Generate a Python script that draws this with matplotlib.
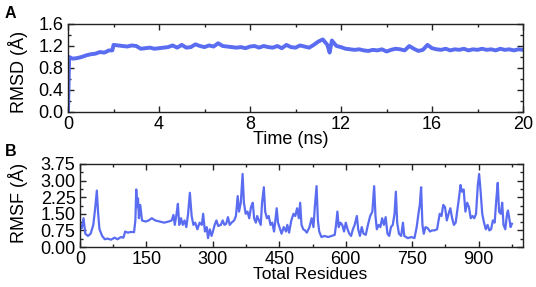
import matplotlib
matplotlib.use("Agg")
import matplotlib.pyplot as plt
from matplotlib.ticker import MultipleLocator

plt.rcParams['font.family'] = ['Liberation Sans', 'DejaVu Sans']

# ---- Panel A: RMSD vs time ----
time_ns = [0, 0.05, 0.2, 0.4, 0.6, 0.8, 1.0, 1.2, 1.4, 1.6, 1.8, 1.95, 2.0, 2.2, 2.4, 2.6, 2.8, 3.0,
           3.2, 3.4, 3.6, 3.8, 4.0, 4.2, 4.4, 4.6, 4.8, 5.0, 5.2, 5.4, 5.6, 5.8, 6.0, 6.2, 6.4,
           6.6, 6.8, 7.0, 7.2, 7.4, 7.6, 7.8, 8.0, 8.2, 8.4, 8.6, 8.8, 9.0, 9.2, 9.4, 9.6, 9.8,
           10.0, 10.2, 10.4, 10.6, 10.8, 11.0, 11.2, 11.4, 11.5, 11.6, 11.8, 12.0, 12.2, 12.4,
           12.6, 12.8, 13.0, 13.2, 13.4, 13.6, 13.8, 14.0, 14.2, 14.4, 14.6, 14.8, 15.0, 15.2,
           15.4, 15.6, 15.8, 16.0, 16.2, 16.4, 16.6, 16.8, 17.0, 17.2, 17.4, 17.6, 17.8, 18.0,
           18.2, 18.4, 18.6, 18.8, 19.0, 19.2, 19.4, 19.6, 19.8, 20.0]
rmsd = [0.0, 1.0, 0.97, 0.98, 1.0, 1.03, 1.05, 1.06, 1.09, 1.08, 1.12, 1.12, 1.22, 1.21, 1.20, 1.19, 1.21, 1.20,
        1.15, 1.16, 1.17, 1.15, 1.16, 1.17, 1.18, 1.21, 1.17, 1.22, 1.17, 1.18, 1.23, 1.20, 1.18, 1.21, 1.19,
        1.25, 1.20, 1.19, 1.18, 1.17, 1.18, 1.16, 1.19, 1.20, 1.17, 1.20, 1.18, 1.17, 1.20, 1.16, 1.22, 1.18,
        1.17, 1.21, 1.19, 1.17, 1.22, 1.28, 1.32, 1.22, 1.08, 1.30, 1.20, 1.18, 1.15, 1.14,
        1.13, 1.14, 1.12, 1.11, 1.13, 1.12, 1.14, 1.10, 1.13, 1.15, 1.14, 1.12, 1.20, 1.15,
        1.11, 1.13, 1.22, 1.16, 1.14, 1.13, 1.15, 1.12, 1.14, 1.13, 1.15, 1.12, 1.14, 1.13,
        1.15, 1.13, 1.14, 1.12, 1.15, 1.13, 1.14, 1.12, 1.14, 1.13]

# ---- Panel B: RMSF per residue ----
residue = [0, 4, 8, 12, 18, 24, 30, 34, 38, 41, 44, 50, 56, 62, 70, 78, 85, 92, 98, 102, 108, 115, 122,
           125, 127, 129, 131, 133, 136, 140, 148, 155, 162, 170, 180, 190, 200, 207, 211, 214, 218, 221,
           224, 228, 232, 236, 240, 244, 248, 252, 256, 260, 265, 270, 275, 278, 282, 286, 289, 293, 297,
           300, 304, 308, 312, 318, 322, 326, 330, 334, 338, 342, 348, 352, 356, 359, 363, 367, 370, 374,
           378, 382, 386, 390, 393, 397, 400, 404, 408, 411, 415, 418, 422, 426, 430, 434, 438, 441, 444,
           447, 451, 455, 460, 465, 468, 472, 477, 482, 486, 490, 494, 497, 500, 504, 508, 512, 518, 523,
           527, 530, 534, 537, 540, 545, 552, 560, 568, 575, 578, 581, 584, 588, 592, 596, 600, 604, 608,
           612, 616, 620, 625, 628, 632, 636, 640, 645, 650, 655, 660, 664, 667, 670, 674, 678, 682, 686,
           690, 694, 698, 702, 706, 710, 713, 716, 720, 725, 729, 732, 740, 748, 755, 760, 764, 767, 770,
           773, 776, 780, 785, 790, 795, 800, 806, 812, 816, 820, 824, 828, 832, 836, 840, 844, 848, 852,
           856, 859, 862, 866, 870, 874, 878, 882, 886, 890, 894, 898, 901, 904, 908, 912, 916, 920, 924,
           928, 932, 936, 940, 943, 946, 950, 953, 956, 960, 964, 966, 969, 972, 975]
rmsf = [1.0, 0.85, 1.3, 0.6, 0.5, 0.6, 1.0, 1.7, 2.55, 1.5, 0.8, 0.5, 0.35, 0.38, 0.33, 0.42, 0.35, 0.45, 0.42, 0.7, 0.65, 0.68, 0.67,
        1.2, 2.6, 1.8, 2.2, 1.3, 1.9, 1.2, 1.15, 1.2, 1.3, 1.2, 1.15, 1.1, 1.15, 1.2, 1.45, 1.0, 1.5, 1.95,
        1.0, 1.3, 1.0, 1.2, 0.9, 1.5, 2.45, 1.4, 1.0, 1.1, 0.8, 1.1, 1.0, 1.5, 0.7, 0.9, 0.4, 0.8, 0.5,
        0.7, 1.0, 1.2, 0.95, 1.0, 1.2, 1.0, 1.05, 1.35, 1.0, 1.1, 1.2, 1.4, 2.3, 1.6, 2.0, 3.3, 2.0, 1.5,
        1.6, 1.3, 1.8, 2.0, 1.3, 1.1, 1.4, 1.2, 1.0, 2.0, 2.7, 1.6, 1.3, 1.4, 1.0, 1.1, 0.7, 1.2, 1.75,
        1.1, 0.85, 0.6, 0.9, 0.7, 1.0, 0.65, 1.2, 1.5, 1.4, 1.75, 1.3, 2.0, 1.0, 0.8, 0.75, 0.65, 0.9, 1.3,
        0.9, 1.8, 2.75, 1.2, 0.7, 0.45, 0.5, 0.45, 0.5, 0.55, 1.0, 1.6, 0.9, 1.1, 1.0, 0.7, 1.1, 0.8, 0.6,
        0.5, 0.8, 1.0, 1.4, 0.8, 0.5, 0.9, 0.6, 0.55, 1.0, 1.4, 1.6, 2.75, 1.4, 0.8, 1.0, 0.9, 1.3, 1.0,
        1.35, 0.6, 0.5, 0.9, 1.0, 1.5, 2.5, 1.1, 0.6, 0.5, 1.1, 0.5, 0.4, 0.45, 0.4, 0.9, 1.5, 1.9, 2.7,
        1.0, 0.6, 0.9, 0.85, 0.7, 0.75, 0.75, 0.8, 1.5, 1.4, 1.9, 1.8, 1.2, 1.5, 1.75, 1.3, 1.0, 1.1, 1.7,
        2.3, 2.8, 2.5, 2.6, 1.6, 2.0, 1.8, 1.3, 1.4, 1.3, 1.5, 2.8, 3.3, 2.6, 1.5, 1.1, 0.8, 1.0, 0.75,
        0.8, 1.2, 1.1, 2.2, 2.9, 1.6, 1.5, 2.0, 1.0, 0.8, 1.5, 1.65, 1.3, 0.9, 1.05]

line_color = '#5a6cf0'
W, H = 536, 287
fig = plt.figure(figsize=(W / 100, H / 100), dpi=100)

axA = fig.add_axes([68 / W, 1 - 112 / H, (523 - 68) / W, (112 - 24) / H])
axB = fig.add_axes([80 / W, 1 - 247 / H, (523 - 80) / W, (247 - 164) / H])

axA.plot(time_ns, rmsd, color=line_color, lw=2.8, solid_joinstyle='round')
axA.set_xlim(0, 20)
axA.set_ylim(0, 1.6)
axA.xaxis.set_major_locator(MultipleLocator(4))
axA.xaxis.set_minor_locator(MultipleLocator(2))
axA.yaxis.set_major_locator(MultipleLocator(0.4))
axA.yaxis.set_minor_locator(MultipleLocator(0.2))
axA.yaxis.set_major_formatter(plt.FormatStrFormatter('%.1f'))
axA.set_xlabel('Time (ns)', fontsize=13)
axA.set_ylabel('RMSD (Å)', fontsize=13)

axB.plot(residue, rmsf, color=line_color, lw=1.6)
axB.set_xlim(0, 1000)
axB.set_ylim(0, 3.75)
axB.xaxis.set_major_locator(MultipleLocator(150))
axB.xaxis.set_minor_locator(MultipleLocator(75))
axB.yaxis.set_major_locator(MultipleLocator(0.75))
axB.yaxis.set_minor_locator(MultipleLocator(0.375))
axB.yaxis.set_major_formatter(plt.FormatStrFormatter('%.2f'))
axB.set_xlabel('Total Residues', fontsize=12.5)
axB.set_ylabel('RMSF (Å)', fontsize=13)

for ax in (axA, axB):
    ax.tick_params(which='both', direction='in', top=True, right=True, labelsize=13,
                   width=1, color='#222222')
    ax.tick_params(axis='x', pad=2.6)
    ax.tick_params(axis='y', pad=3.2)
    ax.tick_params(which='major', length=4.5)
    ax.tick_params(which='minor', length=2.5)
    for s in ax.spines.values():
        s.set_linewidth(1)
        s.set_color('#222222')

# label placement in figure pixels (from top-left)
def fig_xy(px, py):
    return px / W, 1 - py / H

axA.xaxis.set_label_coords(*fig_xy(291, 131), transform=fig.transFigure)
axA.yaxis.set_label_coords(*fig_xy(28, 72), transform=fig.transFigure)
axB.xaxis.set_label_coords(*fig_xy(310, 267), transform=fig.transFigure)
axB.yaxis.set_label_coords(*fig_xy(28, 203), transform=fig.transFigure)

fig.text(*fig_xy(5, 13), 'A', fontsize=11.5, fontweight='bold', ha='left', va='center')
fig.text(*fig_xy(5, 151), 'B', fontsize=11.5, fontweight='bold', ha='left', va='center')

fig.savefig('out.png', dpi=100)
